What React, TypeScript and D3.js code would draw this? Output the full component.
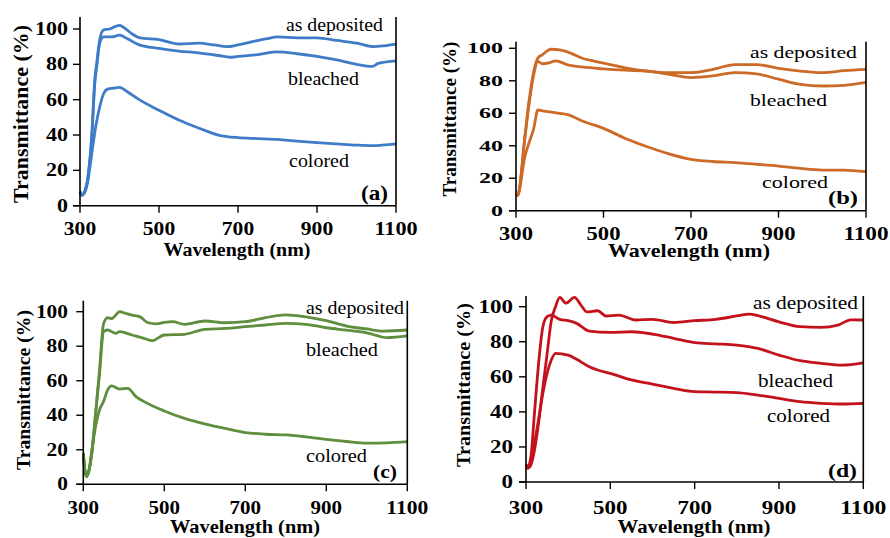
import React, { useLayoutEffect, useRef, useState } from "react";
import * as d3 from "d3";

// ---------- DATA (wavelength nm, transmittance %) ----------
const xTicks = [300, 500, 700, 900, 1100];
const yTicks = [0, 20, 40, 60, 80, 100];
const seriesNames = ["as deposited", "bleached", "colored"];
const panelLabels = ["(a)", "(b)", "(c)", "(d)"];

const aDeposited: [number, number][] = [
  [300, 8], [305, 6], [312, 8], [320, 16], [330, 40], [337, 70], [343, 82], [350, 94], [360, 99.5], [375, 100], [390, 101.5], [400, 102], [410, 101], [430, 97.5], [452, 95], [500, 94], [550, 91.5], [600, 92], [640, 91], [672, 90], [700, 91], [740, 93], [773, 94.5], [800, 95.5], [850, 95], [900, 95], [950, 93.5], [1000, 92], [1043, 90], [1070, 90.5], [1100, 91.5],
];
const aBleached: [number, number][] = [
  [300, 8], [305, 6], [312, 8], [320, 16], [330, 40], [337, 68], [343, 80], [350, 92], [360, 95.5], [380, 95.5], [400, 96.5], [420, 94.5], [450, 91], [500, 89], [550, 87.5], [600, 86.5], [650, 85], [680, 84], [700, 84.5], [750, 85.5], [800, 87], [850, 86], [900, 84.5], [950, 82.5], [1000, 80], [1040, 78.8], [1055, 80.5], [1100, 82],
];
const aColored: [number, number][] = [
  [300, 7], [305, 6], [312, 7.5], [320, 14], [330, 30], [340, 45], [350, 56], [360, 63.5], [370, 66], [385, 66.5], [400, 67], [420, 64.5], [450, 60], [500, 54], [550, 48.5], [600, 44], [650, 40], [700, 38.5], [750, 38], [800, 37.5], [850, 36.5], [900, 35.7], [950, 35], [1000, 34.3], [1040, 34], [1100, 35],
];

const bDeposited: [number, number][] = [
  [300, 9], [305, 10], [320, 45], [330, 68], [340, 85], [350, 94], [360, 96], [380, 99.4], [400, 99], [425, 97], [450, 94], [480, 92], [500, 90.8], [550, 88], [600, 86], [650, 85], [700, 85], [750, 87], [800, 90], [850, 90], [900, 87.7], [950, 86], [1000, 85], [1050, 86.2], [1100, 87],
];
const bBleached: [number, number][] = [
  [300, 9], [305, 10], [320, 44], [330, 66], [340, 83], [350, 92], [360, 90.5], [375, 91], [390, 92.2], [420, 89.7], [450, 88.5], [500, 87.3], [550, 86.5], [600, 86], [650, 84], [700, 82], [750, 83], [800, 85], [850, 84.2], [900, 81], [950, 77.8], [1000, 76.8], [1050, 77.2], [1100, 79],
];
const bColored: [number, number][] = [
  [300, 9], [305, 10], [320, 33], [330, 42], [340, 50], [350, 62], [360, 61.5], [400, 60], [420, 59], [450, 55.4], [500, 50.7], [550, 44.5], [600, 39.4], [650, 35], [700, 31.6], [750, 30.3], [800, 29.6], [850, 28.6], [900, 27.5], [950, 26], [1000, 25], [1050, 25], [1100, 24],
];

const cDeposited: [number, number][] = [
  [300, 18], [303, 10], [308, 4.5], [314, 8], [320, 16], [330, 40], [340, 66], [350, 93], [360, 96.5], [370, 96], [390, 100], [400, 99.4], [420, 98], [440, 97], [460, 93.6], [480, 93], [500, 93.8], [520, 94.2], [550, 92.7], [600, 94.6], [650, 93.6], [700, 94.2], [750, 96.5], [800, 98.2], [850, 97], [900, 94.8], [950, 91.7], [1000, 90], [1040, 88.8], [1100, 89.4],
];
const cBleached: [number, number][] = [
  [300, 18], [303, 10], [308, 4.5], [314, 8], [320, 16], [330, 40], [340, 64], [350, 88.4], [360, 89.4], [380, 87.5], [390, 88.4], [420, 86.5], [450, 84.6], [470, 83.2], [500, 86.5], [550, 86.9], [600, 89.8], [650, 90.3], [700, 91.3], [750, 92.3], [800, 93.2], [850, 92.7], [900, 90.7], [950, 89.3], [1000, 87.8], [1050, 85], [1100, 86],
];
const cColored: [number, number][] = [
  [300, 18], [303, 10], [308, 4.5], [314, 8], [320, 18], [330, 33], [340, 43], [350, 48], [360, 54.6], [370, 57], [390, 55.2], [410, 55.6], [430, 50.8], [450, 47.9], [500, 42.5], [550, 38.2], [600, 35], [650, 32.4], [700, 30], [750, 29], [800, 28.6], [850, 27.5], [900, 26], [950, 24.8], [1000, 23.8], [1050, 24], [1100, 24.7],
];

const dDeposited: [number, number][] = [
  [300, 9], [305, 8], [312, 10], [320, 18], [330, 34], [340, 54], [350, 73], [360, 92], [370, 100], [380, 105.3], [395, 102], [415, 105.3], [430, 101], [445, 97], [470, 97.7], [490, 94.7], [520, 95.2], [560, 92.4], [600, 92.8], [650, 91], [700, 92], [750, 92.8], [800, 94.7], [830, 95.8], [850, 94.9], [900, 91.4], [950, 88.6], [1000, 88.2], [1040, 89.5], [1070, 92.5], [1100, 92.4],
];
const dBleached: [number, number][] = [
  [300, 10], [305, 9], [312, 15], [320, 39], [330, 68], [340, 88.6], [350, 94.3], [360, 95.2], [380, 92.8], [400, 92], [420, 90.5], [450, 86.1], [500, 85.4], [550, 85.7], [600, 84.4], [650, 82], [700, 79.5], [750, 78.8], [800, 78.1], [850, 76.2], [900, 72.4], [950, 69.2], [1000, 67.7], [1050, 66.7], [1100, 68],
];
const dColored: [number, number][] = [
  [300, 8], [305, 8], [312, 12], [320, 22], [330, 36], [340, 50.6], [350, 62], [360, 69.6], [370, 73.4], [400, 72.4], [420, 70], [450, 65.8], [470, 63.9], [500, 62], [550, 58.2], [600, 55.9], [650, 53.4], [700, 51.5], [750, 51.3], [800, 51], [850, 49.6], [900, 47.7], [950, 45.8], [1000, 44.9], [1050, 44.5], [1100, 44.9],
];

const panelSeries = [
  [aDeposited, aBleached, aColored],
  [bDeposited, bBleached, bColored],
  [cDeposited, cBleached, cColored],
  [dDeposited, dBleached, dColored],
];
const panelColors = ["#3f7cc8", "#cc6a28", "#5e8e3e", "#c4121c"];

// ---------- LAYOUT ----------
type Ann = { x: number; y: number; w: number; fs: number };
type Layout = {
  left: number; right: number; y0: number; y100: number; top: number;
  xTickBase: number; xTickFs: number; xDw: number;
  yTickRight: number; yTickFs: number; yDw: number;
  xl: { cx: number; base: number; len: number; fs: number };
  yl: { cx: number; cy: number; len: number; fs: number };
  anns: Ann[];
  tag: { right: number; base: number; w: number; fs: number };
};

const layouts: Layout[] = [
  {
    left: 80, right: 396, y0: 205.7, y100: 29, top: 17,
    xTickBase: 235, xTickFs: 19, xDw: 10.8,
    yTickRight: 68, yTickFs: 18.5, yDw: 11,
    xl: { cx: 237, base: 256, len: 147, fs: 19 },
    yl: { cx: 21, cy: 114, len: 178, fs: 20 },
    anns: [
      { x: 286, y: 31, w: 97, fs: 19 },
      { x: 288, y: 85, w: 71, fs: 19 },
      { x: 289, y: 167, w: 60, fs: 19 },
    ],
    tag: { right: 388, base: 200, w: 27, fs: 20 },
  },
  {
    left: 516, right: 866, y0: 210.7, y100: 48.3, top: 41.7,
    xTickBase: 240, xTickFs: 18, xDw: 11.3,
    yTickRight: 503, yTickFs: 15.5, yDw: 12,
    xl: { cx: 689, base: 257, len: 162, fs: 18 },
    yl: { cx: 450, cy: 119, len: 155, fs: 18 },
    anns: [
      { x: 750, y: 58, w: 107, fs: 17 },
      { x: 750, y: 106, w: 77, fs: 17 },
      { x: 762, y: 188, w: 66, fs: 17 },
    ],
    tag: { right: 858, base: 204, w: 30, fs: 18 },
  },
  {
    left: 83.3, right: 407.3, y0: 484.3, y100: 311.7, top: 300.7,
    xTickBase: 514, xTickFs: 19, xDw: 10.5,
    yTickRight: 68, yTickFs: 18.5, yDw: 10.7,
    xl: { cx: 245, base: 533, len: 150, fs: 19 },
    yl: { cx: 24, cy: 390, len: 160, fs: 19 },
    anns: [
      { x: 306, y: 314, w: 98, fs: 19 },
      { x: 306, y: 356, w: 72, fs: 19 },
      { x: 306, y: 462, w: 61, fs: 19 },
    ],
    tag: { right: 397, base: 478, w: 24, fs: 19 },
  },
  {
    left: 526, right: 863.3, y0: 482, y100: 306.7, top: 296,
    xTickBase: 514, xTickFs: 19, xDw: 11.5,
    yTickRight: 513, yTickFs: 18.5, yDw: 11.5,
    xl: { cx: 694, base: 533, len: 153, fs: 19 },
    yl: { cx: 464, cy: 385, len: 164, fs: 19 },
    anns: [
      { x: 753, y: 309, w: 105, fs: 19 },
      { x: 758, y: 387, w: 75, fs: 19 },
      { x: 767, y: 422, w: 63, fs: 19 },
    ],
    tag: { right: 857, base: 477, w: 29, fs: 19 },
  },
];

const FONT = "Liberation Serif";

// Text stretched horizontally (via transform) so that its width matches `width`.
function FitText(props: {
  x: number; y: number; width: number; fs: number; bold?: boolean;
  anchor?: "start" | "middle" | "end"; rotate?: number; children: string;
}) {
  const { x, y, width, fs, bold, anchor = "start", rotate = 0, children } = props;
  const ref = useRef<SVGTextElement>(null);
  const [sx, setSx] = useState(1);
  useLayoutEffect(() => {
    if (ref.current) {
      const w = ref.current.getComputedTextLength();
      if (w > 0) setSx(width / w);
    }
  }, [width, fs, children]);
  return (
    <g transform={`translate(${x},${y}) rotate(${rotate}) scale(${sx},1)`}>
      <text
        ref={ref}
        x={0}
        y={0}
        textAnchor={anchor}
        fontFamily={FONT}
        fontWeight={bold ? "bold" : "normal"}
        fontSize={fs}
      >
        {children}
      </text>
    </g>
  );
}

function Panel({ idx }: { idx: number }) {
  const L = layouts[idx];
  const x = d3.scaleLinear().domain([300, 1100]).range([L.left, L.right]);
  const y = d3.scaleLinear().domain([0, 100]).range([L.y0, L.y100]);
  const line = d3
    .line<[number, number]>()
    .x((d) => x(d[0]))
    .y((d) => y(d[1]))
    .curve(d3.curveMonotoneX);
  const color = panelColors[idx];
  return (
    <g>
      {panelSeries[idx].map((s, i) => (
        <path key={i} d={line(s) || ""} fill="none" stroke={color} strokeWidth={2.8} strokeLinejoin="round" />
      ))}
      <line x1={L.left} x2={L.left} y1={L.top} y2={L.y0} stroke="#000" strokeWidth={1.6} />
      <line x1={L.right} x2={L.right} y1={L.top} y2={L.y0} stroke="#000" strokeWidth={1.6} />
      <line x1={L.left - 7} x2={L.right} y1={L.y0} y2={L.y0} stroke="#000" strokeWidth={1.6} />
      {yTicks.map((t) => (
        <g key={"y" + t}>
          <line x1={L.left - 7} x2={L.left} y1={y(t)} y2={y(t)} stroke="#000" strokeWidth={1.4} />
          <FitText
            x={L.yTickRight}
            y={y(t) + L.yTickFs * 0.33}
            anchor="end"
            bold
            fs={L.yTickFs}
            width={String(t).length * L.yDw}
          >
            {String(t)}
          </FitText>
        </g>
      ))}
      {xTicks.map((t) => (
        <g key={"x" + t}>
          <line x1={x(t)} x2={x(t)} y1={L.y0} y2={L.y0 + 7} stroke="#000" strokeWidth={1.4} />
          <FitText
            x={x(t)}
            y={L.xTickBase}
            anchor="middle"
            bold
            fs={L.xTickFs}
            width={String(t).length * L.xDw}
          >
            {String(t)}
          </FitText>
        </g>
      ))}
      <FitText x={L.xl.cx} y={L.xl.base} anchor="middle" bold fs={L.xl.fs} width={L.xl.len}>
        Wavelength (nm)
      </FitText>
      <FitText
        x={L.yl.cx + L.yl.fs * 0.33}
        y={L.yl.cy}
        rotate={-90}
        anchor="middle"
        bold
        fs={L.yl.fs}
        width={L.yl.len}
      >
        Transmittance (%)
      </FitText>
      {seriesNames.map((n, i) => (
        <FitText key={n} x={L.anns[i].x} y={L.anns[i].y} fs={L.anns[i].fs} width={L.anns[i].w}>
          {n}
        </FitText>
      ))}
      <FitText x={L.tag.right} y={L.tag.base} anchor="end" bold fs={L.tag.fs} width={L.tag.w}>
        {panelLabels[idx]}
      </FitText>
    </g>
  );
}

export default function App() {
  return (
    <svg width={890} height={538} style={{ position: "absolute", left: 0, top: 0, background: "#fff" }}>
      <rect width={890} height={538} fill="#fff" />
      {[0, 1, 2, 3].map((i) => (
        <Panel key={i} idx={i} />
      ))}
    </svg>
  );
}
